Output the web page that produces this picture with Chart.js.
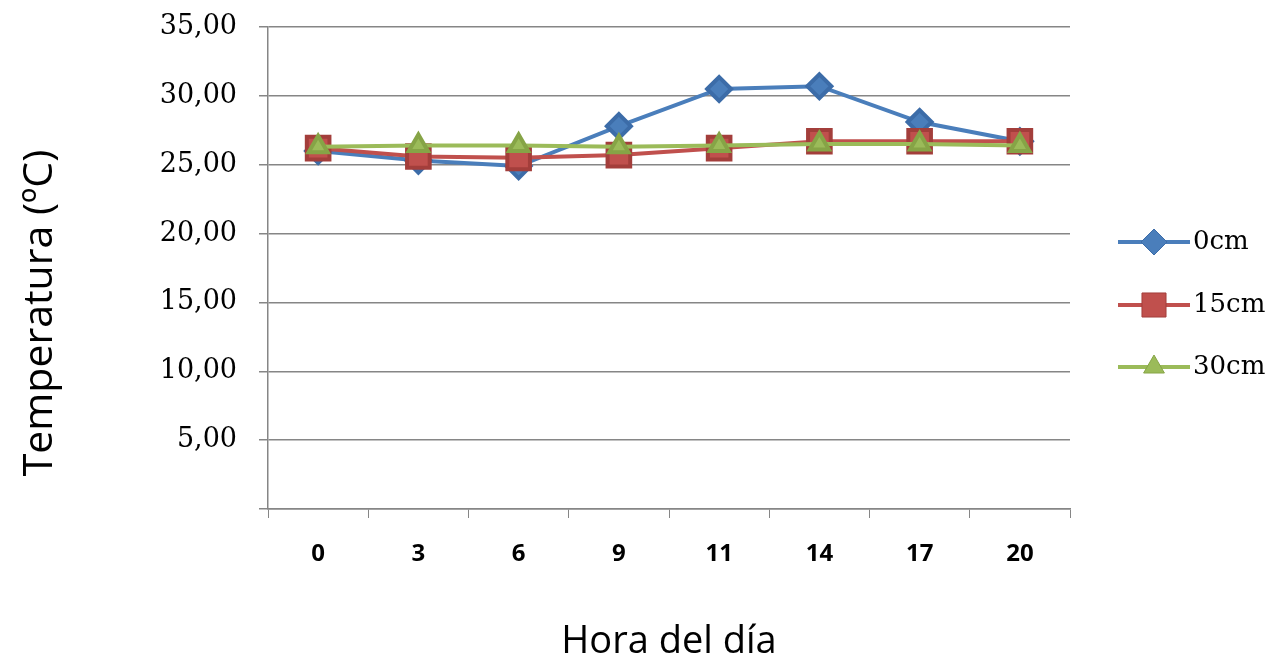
<!DOCTYPE html>
<html>
<head>
<meta charset="utf-8">
<script src="https://cdn.jsdelivr.net/npm/chart.js@4.4.0/dist/chart.umd.min.js"></script>
<style>
  html, body { margin: 0; padding: 0; background: #fff; }
  #wrap { width: 1278px; height: 661px; }
</style>
</head>
<body>
<div id="wrap"><canvas id="myChart" width="1278" height="661"></canvas></div>
<script>
// horas del día
var horas = ['0', '3', '6', '9', '11', '14', '17', '20'];

// temperatura por profundidad
var temp0cm  = [26.0, 25.3, 24.9, 27.8, 30.5, 30.7, 28.1, 26.7];
var temp15cm = [26.2, 25.6, 25.5, 25.7, 26.2, 26.7, 26.7, 26.7];
var temp30cm = [26.3, 26.4, 26.4, 26.3, 26.4, 26.5, 26.5, 26.4];

var yTicks = [0, 5, 10, 15, 20, 25, 30, 35];

var tituloY = 'Temperatura (ºC)';

var azul = '#4a7ebb';
var rojo = '#c0504d';
var verde = '#9bbb59';

// leyenda y titulo del eje Y a mano
var extras = {
    id: 'extras',
    afterDraw: function(chart) {
        var ctx = chart.ctx;
        var x0 = 1118, x1 = 1190;
        var filas = [242, 305, 367];
        chart.data.datasets.forEach(function(ds, i) {
            var y = filas[i];
            ctx.save();
            ctx.strokeStyle = ds.borderColor;
            ctx.lineWidth = 4;
            ctx.beginPath();
            ctx.moveTo(x0, y);
            ctx.lineTo(x1, y);
            ctx.stroke();
            ctx.fillStyle = ds.pointBackgroundColor;
            ctx.strokeStyle = ds.pointBorderColor;
            ctx.lineWidth = 1;
            Chart.helpers.drawPoint(ctx, {
                pointStyle: ds.pointStyle,
                radius: ds.pointRadius + 1,
                rotation: 0,
                borderWidth: 1
            }, (x0 + x1) / 2, y);
            ctx.fillStyle = '#000';
            ctx.font = '26px "DejaVu Serif"';
            ctx.textBaseline = 'middle';
            ctx.fillText(ds.label, x1 + 3, y);
            ctx.restore();
        });

        ctx.save();
        ctx.translate(40, 313);
        ctx.rotate(-Math.PI / 2);
        ctx.fillStyle = '#000';
        ctx.font = '41px "Open Sans"';
        ctx.textAlign = 'center';
        ctx.textBaseline = 'middle';
        ctx.fillText(tituloY, 0, 0);
        ctx.restore();
    }
};

const ctx = document.getElementById('myChart');
const myChart = new Chart(ctx, {
    type: 'line',
    data: {
        labels: horas,
        datasets: [{
            label: '0cm',
            data: temp0cm,
            borderColor: azul,
            backgroundColor: azul,
            pointBackgroundColor: azul,
            pointBorderColor: '#3c6ca8',
            borderWidth: 4,
            pointStyle: 'rectRot',
            pointRadius: 12,
            order: 3
        }, {
            label: '15cm',
            data: temp15cm,
            borderColor: rojo,
            backgroundColor: rojo,
            pointBackgroundColor: rojo,
            pointBorderColor: '#a33e3b',
            borderWidth: 4,
            pointStyle: 'rect',
            pointRadius: 16,
            order: 2
        }, {
            label: '30cm',
            data: temp30cm,
            borderColor: verde,
            backgroundColor: verde,
            pointBackgroundColor: verde,
            pointBorderColor: '#86a446',
            borderWidth: 4,
            pointStyle: 'triangle',
            pointRadius: 11,
            order: 1
        }]
    },
    options: {
        responsive: false,
        animation: false,
        layout: {
            padding: { top: 27, right: 208, bottom: 0, left: 0 }
        },
        plugins: {
            legend: { display: false },
            tooltip: { enabled: false }
        },
        scales: {
            x: {
                offset: true,
                grid: {
                    offset: true,
                    drawOnChartArea: false,
                    drawTicks: true,
                    tickLength: 9,
                    color: '#868686'
                },
                border: { color: '#868686', width: 1.5 },
                ticks: {
                    color: '#000',
                    padding: 22,
                    font: { family: '"Open Sans"', size: 24, weight: 'bold' }
                },
                title: {
                    display: true,
                    text: 'Hora del día',
                    color: '#000',
                    padding: { top: 0, bottom: 0 },
                    font: { family: '"Open Sans"', size: 38, lineHeight: 1 }
                },
                afterFit: function(scale) { scale.height = 152; }
            },
            y: {
                min: 0,
                max: 35,
                afterBuildTicks: function(scale) {
                    scale.ticks = yTicks.map(function(v) { return { value: v }; });
                },
                grid: {
                    color: '#868686',
                    lineWidth: 1.5,
                    tickLength: 9
                },
                border: { color: '#868686', width: 1.5 },
                ticks: {
                    color: '#000',
                    padding: 22,
                    font: { family: '"DejaVu Serif"', size: 27, lineHeight: 1 },
                    callback: function(v) {
                        if (v === 0) return '';
                        return v.toFixed(2).replace('.', ',');
                    }
                },
                afterFit: function(scale) {
                    scale.width = 268;
                    scale.paddingTop = 0;
                    scale.paddingBottom = 0;
                }
            }
        }
    },
    plugins: [extras]
});
</script>
</body>
</html>
